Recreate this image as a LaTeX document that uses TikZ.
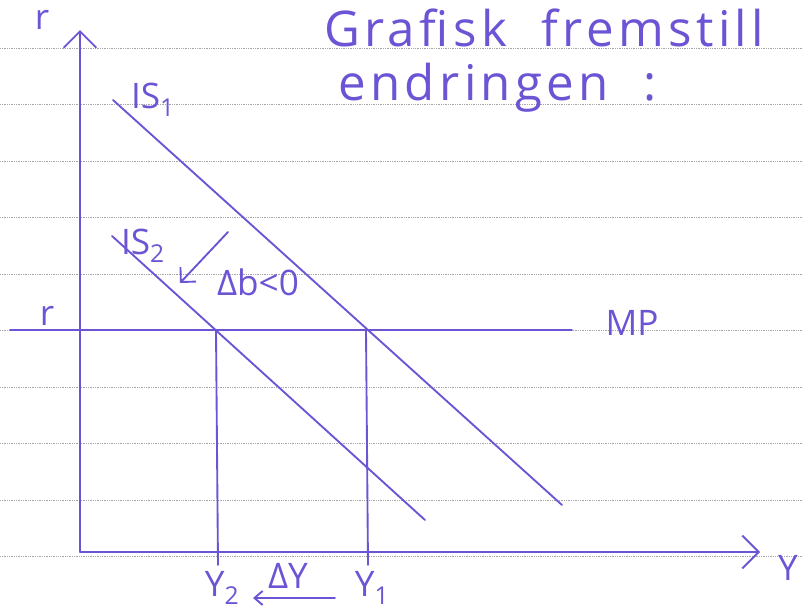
\documentclass[tikz,border=0pt]{standalone}
\usepackage{fontspec}
\setmainfont{Open Sans}
\newfontfamily\tittelfont[LetterSpace=9,WordSpace=2]{Open Sans}
\usetikzlibrary{arrows.meta}
\definecolor{penn}{RGB}{108,84,212}

\begin{document}
\begin{tikzpicture}[x=0.03cm, y=-0.03cm, >={Straight Barb[length=14pt,width=28pt]},
    linje/.style={draw=penn, line width=1.6pt, line cap=round},
    tekst/.style={text=penn, inner sep=0pt, font=\fontsize{30}{34}\selectfont},
    tittel/.style={text=penn, inner sep=0pt, anchor=west,
        font=\tittelfont\fontsize{42}{48}\selectfont}]
    \useasboundingbox (0,0) rectangle (803,614);

    % Linjert papir
    \foreach \i in {0,...,9}
        \draw[gray!70, densely dotted, line width=0.5pt] (0,{48+56.5*\i}) -- (803,{48+56.5*\i});

    % Tittel
    \node[tittel] (tit1) at (324,28) {Grafisk fremstill};
    \node[tittel] (tit2) at (338,88) {endringen :};

    % Akser
    \coordinate (O) at (80,552);
    \coordinate (ytopp) at (80,30);
    \coordinate (xslutt) at (760,552);
    \draw[linje, ->] (O) -- (ytopp);
    \draw[linje, ->] (O) -- (xslutt);
    \node[tekst] (rakse) at (42,20) {r};
    \node[tekst] (yakse) at (788,568) {Y};

    % MP-kurve
    \coordinate (mpA) at (10,330);
    \coordinate (mpB) at (572,330);
    \draw[linje] (mpA) -- (mpB);
    \node[tekst] (rnivaa) at (47,316) {r};
    \node[tekst] (mp) at (632,323) {MP};

    % IS-kurver
    \coordinate (is1A) at (113,100);
    \coordinate (is1B) at (562,505);
    \draw[linje] (is1A) -- (is1B);
    \node[tekst] (is1) at (153,100) {IS\textsubscript{1}};

    \coordinate (is2A) at (112,236);
    \coordinate (is2B) at (425,520);
    \draw[linje] (is2A) -- (is2B);
    \node[tekst] (is2) at (143,246) {IS\textsubscript{2}};

    % Skift
    \coordinate (skiftA) at (228,232);
    \coordinate (skiftB) at (180,283);
    \draw[linje, ->, >={Straight Barb[length=9pt,width=18pt]}] (skiftA) -- (skiftB);
    \node[tekst] (db) at (258,282) {Δb<0};

    % Likevekter
    \coordinate (E2) at (216,330);
    \coordinate (E1) at (366,330);
    \coordinate (Y2fot) at (218,565);
    \coordinate (Y1fot) at (368,565);
    \draw[linje] (E2) -- (Y2fot);
    \draw[linje] (E1) -- (Y1fot);
    \node[tekst] (y2) at (222,588) {Y\textsubscript{2}};
    \node[tekst] (y1) at (372,588) {Y\textsubscript{1}};
    \node[tekst] (dy) at (288,576) {ΔY};
    \coordinate (dyA) at (335,598);
    \coordinate (dyB) at (253,598);
    \draw[linje, ->, >={Straight Barb[length=7pt,width=12pt]}] (dyA) -- (dyB);
\end{tikzpicture}
\end{document}
